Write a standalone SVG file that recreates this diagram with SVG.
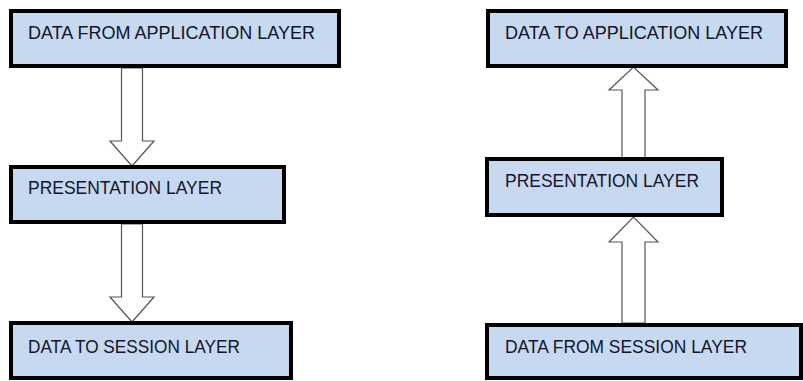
<svg xmlns="http://www.w3.org/2000/svg" width="803" height="381" viewBox="0 0 803 381">
<style>
.box{fill:#c6d9f1;stroke:#000;stroke-width:4}
.lbl{font-family:"Liberation Sans",Arial,sans-serif;font-size:18px;fill:#141428}
.arr{fill:#fff;stroke:#555;stroke-width:1.2;stroke-linejoin:miter}
</style>
<rect width="803" height="381" fill="#fff"/>
<g id="connectors">
<polygon class="arr" points="121.5,68 142.5,68 142.5,141 154,141 132,166 110,141 121.5,141"/>
<polygon class="arr" points="121.5,224 142.5,224 142.5,297 154,297 132,322 110,297 121.5,297"/>
<polygon class="arr" points="622,158 645,158 645,90 658,90 633.5,67 609,90 622,90"/>
<polygon class="arr" points="622,323 645,323 645,242 658,242 633.5,217 609,242 622,242"/>
</g>
<g id="n1"><rect class="box" x="11" y="11" width="328" height="55"/><text class="lbl" x="28" y="39" textLength="287" lengthAdjust="spacingAndGlyphs">DATA FROM APPLICATION LAYER</text></g>
<g id="n2"><rect class="box" x="11" y="167" width="273" height="55"/><text class="lbl" x="28" y="194" textLength="194" lengthAdjust="spacingAndGlyphs">PRESENTATION LAYER</text></g>
<g id="n3"><rect class="box" x="11" y="323" width="280" height="55"/><text class="lbl" x="28" y="353" textLength="212" lengthAdjust="spacingAndGlyphs">DATA TO SESSION LAYER</text></g>
<g id="n4"><rect class="box" x="488" y="11" width="298" height="55"/><text class="lbl" x="505" y="39" textLength="258" lengthAdjust="spacingAndGlyphs">DATA TO APPLICATION LAYER</text></g>
<g id="n5"><rect class="box" x="487" y="159" width="235" height="56"/><text class="lbl" x="505" y="187" textLength="194" lengthAdjust="spacingAndGlyphs">PRESENTATION LAYER</text></g>
<g id="n6"><rect class="box" x="487" y="325" width="314" height="53"/><text class="lbl" x="505" y="353" textLength="242" lengthAdjust="spacingAndGlyphs">DATA FROM SESSION LAYER</text></g>
</svg>
